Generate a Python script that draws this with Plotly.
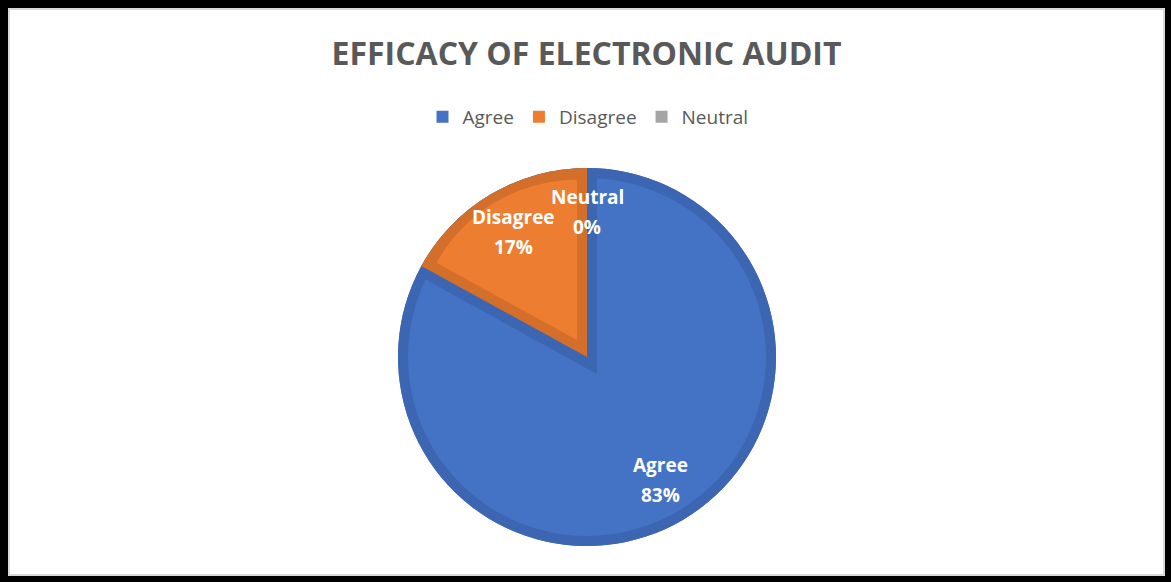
import math
import plotly.graph_objects as go

# Survey responses
labels = ["Agree", "Disagree", "Neutral"]
values = [83, 17, 0]

fill_colors = ["#4472C4", "#ED7D31", "#A5A5A5"]
edge_colors = ["#3C66B1", "#D46F2B", "#8F8F8F"]
CLEAR = "rgba(0,0,0,0)"

W, H = 1171, 582
CX, CY = 587, 357          # pie centre, px from top-left
R = 189                    # outer radius, px
BAND = 10                  # width of the darker slice edge, px

FONT = "Open Sans"
GREY = "#595959"


def domain(px, py, r):
    return dict(x=[(px - r) / W, (px + r) / W],
                y=[1 - (py + r) / H, 1 - (py - r) / H])


total = sum(values)
fracs = [v / total for v in values]
starts = [sum(fracs[:i]) * 360 for i in range(len(fracs))]
mids = [starts[i] + fracs[i] * 180 for i in range(len(fracs))]

# geometry of the Disagree wedge (used to inset / dilate its edges)
i_dis = labels.index("Disagree")
half = math.radians(fracs[i_dis] * 180)
mid = math.radians(mids[i_dis])
bx, by = math.sin(mid), -math.cos(mid)      # bisector in screen coords
shift = BAND / math.sin(half)

common = dict(labels=labels, values=values, sort=False, direction="clockwise",
              rotation=0, textinfo="none", hoverinfo="label+percent",
              showlegend=False)


def colours(sel):
    return [c if c is not None else CLEAR for c in sel]


traces = [
    # legend carrier (fully covered by the layers above)
    go.Pie(**{**common, "showlegend": True}, domain=domain(CX, CY, R),
           marker=dict(colors=fill_colors)),
    # darker outer disc
    go.Pie(**common, domain=domain(CX, CY, R),
           marker=dict(colors=[edge_colors[0], edge_colors[0], edge_colors[2]])),
    # Agree body
    go.Pie(**common, domain=domain(CX, CY, R - BAND),
           marker=dict(colors=colours([fill_colors[0], None, None]))),
    # Agree edge band along the Disagree wedge
    go.Pie(**common, domain=domain(CX - shift * bx, CY - shift * by, R - 5 + shift),
           marker=dict(colors=colours([None, edge_colors[0], None]))),
    # Disagree edge
    go.Pie(**common, domain=domain(CX, CY, R),
           marker=dict(colors=colours([None, edge_colors[1], None]))),
    # Disagree body
    go.Pie(**common, domain=domain(CX + shift * bx, CY + shift * by, R - BAND - shift + 1),
           marker=dict(colors=colours([None, fill_colors[1], None]))),
]

fig = go.Figure(traces)

# slice labels along each bisector: name above, percentage below
annotations = []
LINE = 15
for lab, f, m in zip(labels, fracs, mids):
    a = math.radians(m)
    px = CX + 0.76 * R * math.sin(a)
    py = CY - 0.76 * R * math.cos(a)
    for txt, dy in ((lab, -LINE), (f"{round(f * 100)}%", LINE)):
        annotations.append(dict(
            x=px / W, y=1 - (py + dy - 1) / H, xref="paper", yref="paper",
            text=f"<b>{txt}</b>", showarrow=False,
            font=dict(family=FONT, size=19, color="white"),
            xanchor="center", yanchor="middle"))

# frame
shapes = [
    dict(type="rect", xref="paper", yref="paper", x0=0, x1=8 / W, y0=0, y1=1,
         fillcolor="black", line_width=0),
    dict(type="rect", xref="paper", yref="paper", x0=0, x1=1, y0=1 - 8 / H, y1=1,
         fillcolor="black", line_width=0),
    dict(type="rect", xref="paper", yref="paper", x0=1165 / W, x1=1, y0=0, y1=1,
         fillcolor="black", line_width=0),
    dict(type="rect", xref="paper", yref="paper", x0=0, x1=1, y0=0, y1=6 / H,
         fillcolor="black", line_width=0),
    dict(type="rect", xref="paper", yref="paper", x0=9 / W, x1=1164 / W,
         y0=7 / H, y1=1 - 9 / H, line=dict(color="#D9D9D9", width=2)),
]

fig.update_layout(
    width=W, height=H,
    margin=dict(l=0, r=0, t=0, b=0),
    paper_bgcolor="white", plot_bgcolor="white",
    title=dict(text="<b>EFFICACY OF ELECTRONIC AUDIT</b>", x=586.5 / W, xanchor="center",
               y=1 - 54 / H, yanchor="middle",
               font=dict(family=FONT, size=32, color=GREY)),
    legend=dict(orientation="h", x=588 / W, xanchor="center", y=1 - 117 / H,
                yanchor="middle", font=dict(family=FONT, size=19, color=GREY),
                bgcolor="rgba(0,0,0,0)"),
    annotations=annotations,
    shapes=shapes,
)

fig.write_html("out.html")
